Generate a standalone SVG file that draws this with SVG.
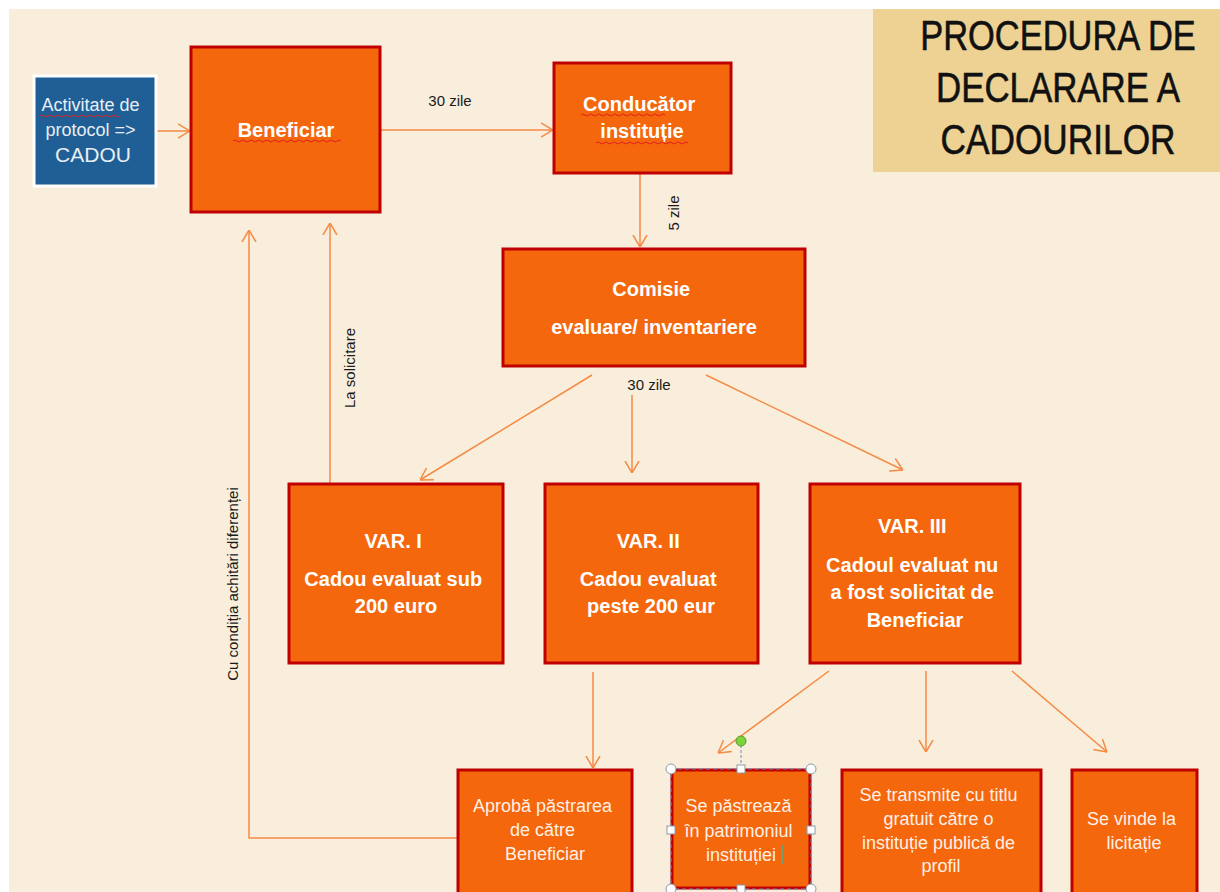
<svg xmlns="http://www.w3.org/2000/svg" width="1220" height="892" viewBox="0 0 1220 892">
  <style>
    .box { fill: #F4670C; stroke: #C00000; stroke-width: 3; }
    .hd { font-family: "Liberation Sans", Arial, sans-serif; font-weight: bold; font-size: 20px; fill: #FFFFFF; text-anchor: middle; }
    .bd { font-family: "Liberation Sans", Arial, sans-serif; font-size: 18px; fill: #FFF0E6; text-anchor: middle; }
    .lbl { font-family: "Liberation Sans", Arial, sans-serif; font-size: 15px; fill: #1A1A1A; text-anchor: middle; }
    .edge { fill: none; stroke: #F58A45; stroke-width: 1.5; marker-end: url(#arr); }
    .squig { fill: none; stroke: #E02020; stroke-width: 1; }
    .title { font-family: "Liberation Sans", Arial, sans-serif; font-size: 42px; fill: #111111; stroke: #111111; stroke-width: 0.6; text-anchor: middle; }
    .hdl { fill: #FFFFFF; stroke: #8A9AAA; stroke-width: 1; }
  </style>
  <defs>
    <marker id="arr" viewBox="0 0 12 16" refX="12" refY="8" markerWidth="12" markerHeight="16" markerUnits="userSpaceOnUse" orient="auto">
      <path d="M0,1 L12,8 L0,15" fill="none" stroke="#F58A45" stroke-width="1.5"/>
    </marker>
  </defs>

  <!-- page -->
  <rect x="0" y="0" width="1220" height="892" fill="#FFFFFF"/>
  <rect x="9" y="9" width="1211" height="883" fill="#F8EEDB"/>

  <!-- title block -->
  <g id="title">
    <rect x="873" y="9" width="347" height="163" fill="#EDD293"/>
    <text class="title" transform="translate(1058,50) scale(0.82,1)">PROCEDURA DE</text>
    <text class="title" transform="translate(1058,102) scale(0.83,1)">DECLARARE A</text>
    <text class="title" transform="translate(1058,154) scale(0.84,1)">CADOURILOR</text>
  </g>

  <!-- connectors -->
  <g id="connectors">
    <line class="edge" x1="157" y1="131" x2="190" y2="131"/>
    <line class="edge" x1="381" y1="130" x2="553" y2="130"/>
    <line class="edge" x1="640" y1="174" x2="640" y2="247"/>
    <line class="edge" x1="592" y1="375" x2="420" y2="480"/>
    <line class="edge" x1="632" y1="395" x2="632" y2="473"/>
    <line class="edge" x1="706" y1="375" x2="903" y2="470"/>
    <line class="edge" x1="330" y1="483" x2="330" y2="223"/>
    <polyline class="edge" points="457,838 249,838 249,230"/>
    <line class="edge" x1="593" y1="672" x2="593" y2="768"/>
    <line class="edge" x1="829" y1="671" x2="718" y2="753"/>
    <line class="edge" x1="926" y1="671" x2="926" y2="752"/>
    <line class="edge" x1="1012" y1="671" x2="1107" y2="752"/>

    <text class="lbl" x="450" y="106">30 zile</text>
    <text class="lbl" x="649" y="390">30 zile</text>
    <text class="lbl" transform="translate(679,213) rotate(-90)" font-size="14">5 zile</text>
    <text class="lbl" transform="translate(355,368) rotate(-90)" font-size="14">La solicitare</text>
    <text class="lbl" transform="translate(238,584) rotate(-90)" font-size="14.5">Cu condiția achitări diferenței</text>
  </g>

  <!-- nodes -->
  <g id="activitate">
    <rect x="34" y="76" width="122" height="110" fill="#1F5F96" stroke="#FFFFFF" stroke-width="3"/>
    <text font-family="Liberation Sans, Arial, sans-serif" font-size="18" fill="#E8EEF5" text-anchor="middle">
      <tspan x="93" y="111">Activitate de</tspan>
      <tspan x="93" y="136">protocol =&gt;</tspan>
      <tspan x="93" y="162" font-size="21">CADOU</tspan>
    </text>
    <path class="squig" d="M40,116 q2,-2 4,0 t4,0 t4,0 t4,0 t4,0 t4,0 t4,0 t4,0 t4,0 t4,0 t4,0 t4,0 t4,0 t4,0 t4,0 t4,0 t4,0 t4,0 t4,0 t4,0"/>
  </g>

  <g id="beneficiar">
    <rect class="box" x="191" y="47" width="189" height="165"/>
    <text class="hd" x="286" y="137">Beneficiar</text>
    <path class="squig" d="M233,141 q2,-2 4,0 t4,0 t4,0 t4,0 t4,0 t4,0 t4,0 t4,0 t4,0 t4,0 t4,0 t4,0 t4,0 t4,0 t4,0 t4,0 t4,0 t4,0 t4,0 t4,0 t4,0 t4,0 t4,0 t4,0 t4,0 t4,0 t4,0"/>
  </g>

  <g id="conducator">
    <rect class="box" x="554" y="63" width="177" height="110"/>
    <text class="hd">
      <tspan x="642" y="111">Conducător</tspan>
      <tspan x="642" y="138">instituție</tspan>
    </text>
    <path class="squig" d="M581,115 q2,-2 4,0 t4,0 t4,0 t4,0 t4,0 t4,0 t4,0 t4,0 t4,0 t4,0 t4,0 t4,0 t4,0 t4,0 t4,0 t4,0 t4,0 t4,0 t4,0 t4,0 t4,0"/>
    <path class="squig" d="M596,143 q2,-2 4,0 t4,0 t4,0 t4,0 t4,0 t4,0 t4,0 t4,0 t4,0 t4,0 t4,0 t4,0 t4,0 t4,0 t4,0 t4,0 t4,0 t4,0 t4,0 t4,0 t4,0 t4,0 t4,0"/>
  </g>

  <g id="comisie">
    <rect class="box" x="503" y="249" width="302" height="117"/>
    <text class="hd">
      <tspan x="654" y="296">Comisie</tspan>
      <tspan x="654" y="334">evaluare/ inventariere</tspan>
    </text>
  </g>

  <g id="var1">
    <rect class="box" x="289" y="484" width="214" height="179"/>
    <text class="hd">
      <tspan x="396" y="548">VAR. I</tspan>
      <tspan x="396" y="586">Cadou evaluat sub</tspan>
      <tspan x="396" y="613">200 euro</tspan>
    </text>
  </g>

  <g id="var2">
    <rect class="box" x="545" y="484" width="213" height="179"/>
    <text class="hd">
      <tspan x="651" y="548">VAR. II</tspan>
      <tspan x="651" y="586">Cadou evaluat</tspan>
      <tspan x="651" y="613">peste 200 eur</tspan>
    </text>
  </g>

  <g id="var3">
    <rect class="box" x="810" y="484" width="210" height="179"/>
    <text class="hd">
      <tspan x="915" y="533">VAR. III</tspan>
      <tspan x="915" y="572">Cadoul evaluat nu</tspan>
      <tspan x="915" y="599">a fost solicitat de</tspan>
      <tspan x="915" y="627">Beneficiar</tspan>
    </text>
  </g>

  <g id="aproba">
    <rect class="box" x="458" y="770" width="174" height="124"/>
    <text class="bd">
      <tspan x="545" y="812">Aprobă păstrarea</tspan>
      <tspan x="545" y="836">de către</tspan>
      <tspan x="545" y="860">Beneficiar</tspan>
    </text>
  </g>

  <g id="pastreaza">
    <rect class="box" x="672" y="770" width="138" height="118"/>
    <text class="bd">
      <tspan x="741" y="812">Se păstrează</tspan>
      <tspan x="741" y="837">în patrimoniul</tspan>
      <tspan x="741" y="861">instituției</tspan>
    </text>
    <line x1="782" y1="845" x2="782" y2="864" stroke="#19C4B0" stroke-width="1.2"/>
    <!-- edit handles -->
    <rect x="671" y="769" width="140" height="120" fill="none" stroke="#6C8EBF" stroke-width="1" stroke-dasharray="4,3"/>
    <line x1="741" y1="745" x2="741" y2="769" stroke="#6C8EBF" stroke-width="1" stroke-dasharray="3,2"/>
    <circle cx="741" cy="741" r="5" fill="#7CD33A" stroke="#5A9A2A" stroke-width="1"/>
    <circle class="hdl" cx="671" cy="769" r="5"/>
    <circle class="hdl" cx="811" cy="769" r="5"/>
    <circle class="hdl" cx="671" cy="889" r="5"/>
    <circle class="hdl" cx="811" cy="889" r="5"/>
    <rect class="hdl" x="737" y="765" width="8" height="8"/>
    <rect class="hdl" x="667" y="826" width="8" height="8"/>
    <rect class="hdl" x="807" y="826" width="8" height="8"/>
    <rect class="hdl" x="737" y="885" width="8" height="8"/>
  </g>

  <g id="transmite">
    <rect class="box" x="842" y="770" width="199" height="124"/>
    <text class="bd">
      <tspan x="941" y="801">Se transmite cu titlu</tspan>
      <tspan x="941" y="825">gratuit  către o</tspan>
      <tspan x="941" y="849">instituție publică de</tspan>
      <tspan x="941" y="872">profil</tspan>
    </text>
  </g>

  <g id="vinde">
    <rect class="box" x="1072" y="770" width="125" height="124"/>
    <text class="bd">
      <tspan x="1134" y="825">Se vinde la</tspan>
      <tspan x="1134" y="849">licitație</tspan>
    </text>
  </g>
</svg>
